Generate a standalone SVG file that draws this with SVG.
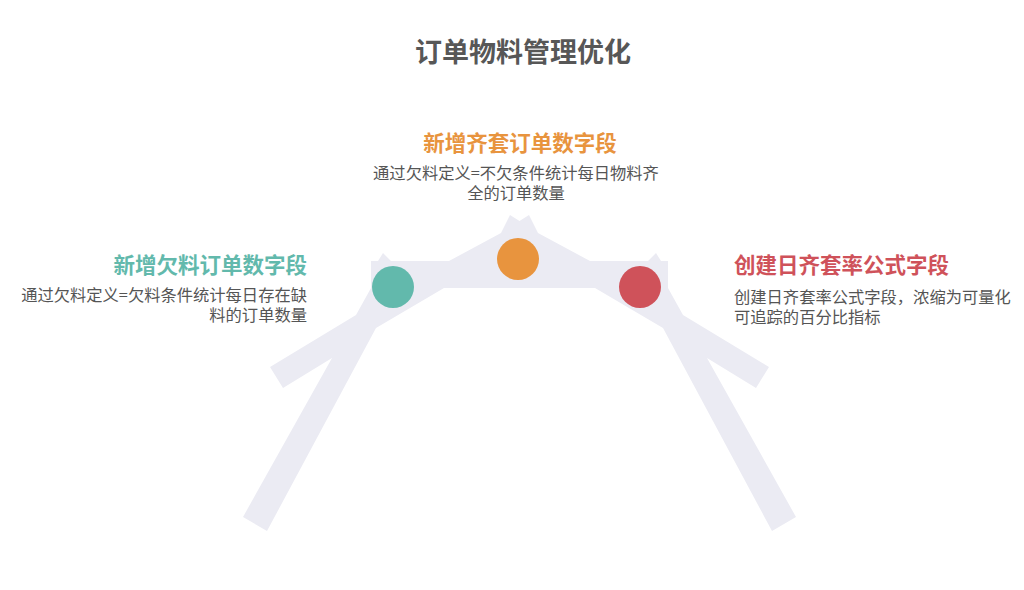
<svg xmlns="http://www.w3.org/2000/svg" width="1024" height="590" viewBox="0 0 1024 590">
<style>
  text { font-family: "Noto Sans CJK SC", "Noto Sans", sans-serif; }
  .title { font-size: 27px; font-weight: bold; fill: #575757; }
  .head { font-size: 21.5px; font-weight: bold; }
  .desc { font-size: 16.3px; fill: #555555; }
  .shape { fill: #EBEBF3; }
</style>
<rect width="1024" height="590" fill="#FFFFFF"/>
<g id="connectors">
  <polygon class="shape" points="243,517 332,358 283,388 270,367 356,315 371,288 371,261 378,261 383,253 391,261 449,261 501,233 510,215 519.5,221 529,215 538,233 590,261 648,261 656,253 661,261 668,261 668,288 683,315 769,367 756,388 707,358 796,517 772,531 663,328 595,288 444,288 376,328 267,531"/>
</g>
<text class="title" x="523" y="62" text-anchor="middle">订单物料管理优化</text>
<g id="node-center">
  <circle cx="518" cy="259" r="21" fill="#E8943E"/>
  <text class="head" x="520" y="151" text-anchor="middle" fill="#E8943E">新增齐套订单数字段</text>
  <text class="desc" x="516" y="178.5" text-anchor="middle">通过欠料定义=不欠条件统计每日物料齐</text>
  <text class="desc" x="516" y="199" text-anchor="middle">全的订单数量</text>
</g>
<g id="node-left">
  <circle cx="393" cy="287" r="21" fill="#62B9AC"/>
  <text class="head" x="307" y="273" text-anchor="end" fill="#62B9AC">新增欠料订单数字段</text>
  <text class="desc" x="307" y="301" text-anchor="end">通过欠料定义=欠料条件统计每日存在缺</text>
  <text class="desc" x="307" y="321" text-anchor="end">料的订单数量</text>
</g>
<g id="node-right">
  <circle cx="640" cy="287" r="21" fill="#CF525A"/>
  <text class="head" x="734" y="273" fill="#CF525A">创建日齐套率公式字段</text>
  <text class="desc" x="734" y="303">创建日齐套率公式字段，浓缩为可量化</text>
  <text class="desc" x="734" y="323">可追踪的百分比指标</text>
</g>
</svg>
